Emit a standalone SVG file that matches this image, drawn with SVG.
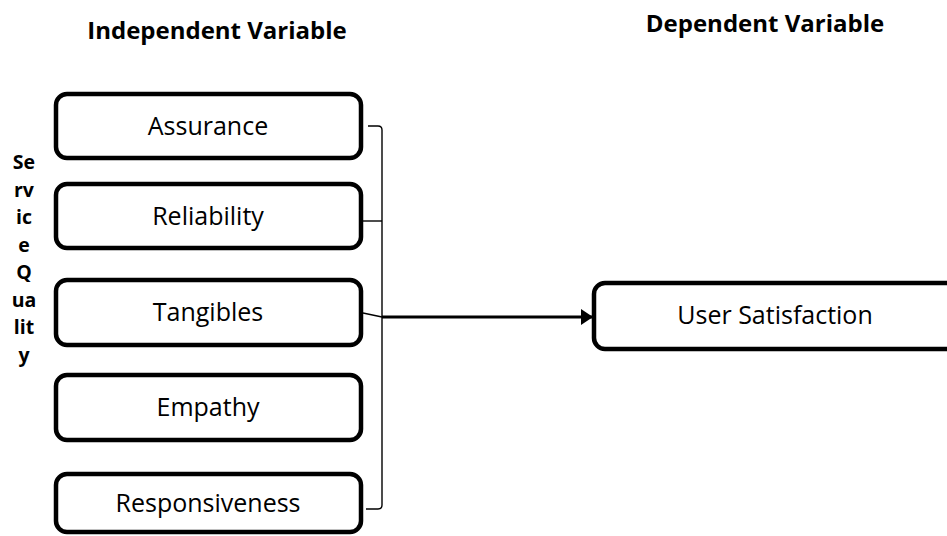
<svg xmlns="http://www.w3.org/2000/svg" width="947" height="536" viewBox="0 0 947 536">
<style>
.box{fill:#fff;stroke:#000;stroke-width:4.5}
.lbl{font-family:"Open Sans","Noto Sans",sans-serif;font-size:25px;fill:#000;text-anchor:middle}
.hd{font-family:"Open Sans","Noto Sans",sans-serif;font-size:24px;font-weight:bold;fill:#000;text-anchor:middle}
.sq{font-family:"Open Sans","Noto Sans",sans-serif;font-size:19.5px;font-weight:bold;fill:#000;text-anchor:middle}
.thin{fill:none;stroke:#000;stroke-width:1.4}
</style>
<defs>
<marker id="ah" markerWidth="12" markerHeight="16" refX="11" refY="8" orient="auto" markerUnits="userSpaceOnUse" viewBox="0 0 12 16">
<path d="M0,0 L12,8 L0,16 Z" fill="#000"/>
</marker>
</defs>
<g id="headings">
<text class="hd" x="217" y="39">Independent Variable</text>
<text class="hd" x="765" y="32">Dependent Variable</text>
</g>
<g id="service-quality">
<text class="sq" x="24" y="169">Se</text>
<text class="sq" x="24" y="196.5">rv</text>
<text class="sq" x="24" y="224">ic</text>
<text class="sq" x="24" y="251.5">e</text>
<text class="sq" x="24" y="279">Q</text>
<text class="sq" x="24" y="306.5">ua</text>
<text class="sq" x="24" y="334">lit</text>
<text class="sq" x="24" y="361.5">y</text>
</g>
<g id="assurance"><rect class="box" x="56" y="94" width="305" height="64" rx="11"/><text class="lbl" x="208" y="135">Assurance</text></g>
<g id="reliability"><rect class="box" x="56" y="184" width="305" height="64" rx="11"/><text class="lbl" x="208" y="225">Reliability</text></g>
<g id="tangibles"><rect class="box" x="56" y="280" width="305" height="65" rx="11"/><text class="lbl" x="208" y="321">Tangibles</text></g>
<g id="empathy"><rect class="box" x="56" y="375" width="305" height="65" rx="11"/><text class="lbl" x="208" y="416">Empathy</text></g>
<g id="responsiveness"><rect class="box" x="56" y="474" width="305" height="58" rx="11"/><text class="lbl" x="208" y="512">Responsiveness</text></g>
<g id="user-satisfaction"><rect class="box" x="594" y="283" width="370" height="66" rx="11"/><text class="lbl" x="775" y="324">User Satisfaction</text></g>
<g id="connectors">
<path class="thin" d="M368,126 H378 Q382,126 382,130 V505 Q382,509 378,509 H366"/>
<path class="thin" d="M363,221 H382"/>
<path class="thin" d="M363,313 L382,317"/>
<path d="M382,317 H592" fill="none" stroke="#000" stroke-width="3" marker-end="url(#ah)"/>
</g>
</svg>
